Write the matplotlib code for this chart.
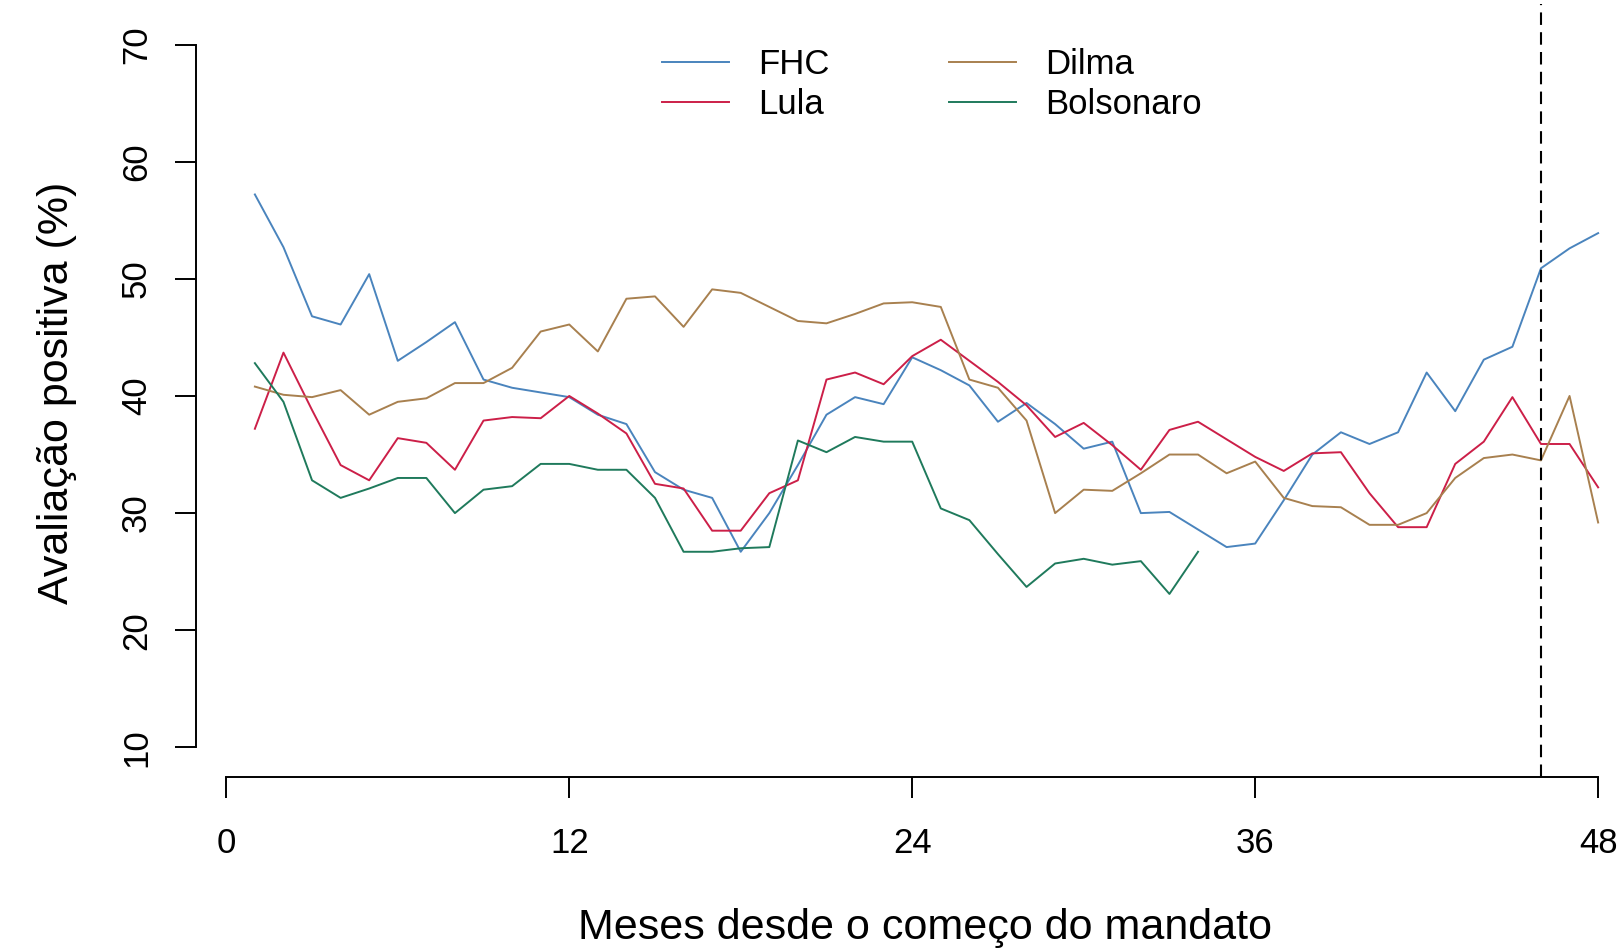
import numpy as np
import matplotlib
matplotlib.use("Agg")
import matplotlib.pyplot as plt

plt.rcParams['font.family'] = ['Liberation Sans', 'DejaVu Sans']

# avaliacao positiva (%) por mes de mandato
meses = np.arange(1, 49)
fhc = [57.2, 52.7, 46.8, 46.1, 50.4, 43.0, 44.6, 46.3, 41.4, 40.7,
       40.3, 39.9, 38.4, 37.6, 33.5, 32.0, 31.3, 26.7, 30.0, 34.1,
       38.4, 39.9, 39.3, 43.3, 42.2, 40.9, 37.8, 39.4, 37.6, 35.5,
       36.1, 30.0, 30.1, 28.6, 27.1, 27.4, 31.1, 35.0, 36.9, 35.9,
       36.9, 42.0, 38.7, 43.1, 44.2, 50.9, 52.6, 53.9]
lula = [37.2, 43.7, 38.8, 34.1, 32.8, 36.4, 36.0, 33.7, 37.9, 38.2,
        38.1, 40.0, 38.5, 36.8, 32.5, 32.1, 28.5, 28.5, 31.7, 32.8,
        41.4, 42.0, 41.0, 43.4, 44.8, 43.0, 41.2, 39.2, 36.5, 37.7,
        35.8, 33.7, 37.1, 37.8, 36.3, 34.8, 33.6, 35.1, 35.2, 31.7,
        28.8, 28.8, 34.2, 36.1, 39.9, 35.9, 35.9, 32.2]
dilma = [40.8, 40.1, 39.9, 40.5, 38.4, 39.5, 39.8, 41.1, 41.1, 42.4,
         45.5, 46.1, 43.8, 48.3, 48.5, 45.9, 49.1, 48.8, 47.6, 46.4,
         46.2, 47.0, 47.9, 48.0, 47.6, 41.4, 40.7, 37.9, 30.0, 32.0,
         31.9, 33.4, 35.0, 35.0, 33.4, 34.4, 31.3, 30.6, 30.5, 29.0,
         29.0, 30.0, 33.0, 34.7, 35.0, 34.5, 40.0, 29.2]
bolsonaro = [42.8, 39.5, 32.8, 31.3, 32.1, 33.0, 33.0, 30.0, 32.0, 32.3,
             34.2, 34.2, 33.7, 33.7, 31.3, 26.7, 26.7, 27.0, 27.1, 36.2,
             35.2, 36.5, 36.1, 36.1, 30.4, 29.4, 26.5, 23.7, 25.7, 26.1,
             25.6, 25.9, 23.1, 26.7]
nomes = ['FHC', 'Lula', 'Dilma', 'Bolsonaro']
cores = ['#4a84bd', '#cc1f48', '#a8804f', '#1f7a5c']
mes_atual = 46

W, H = 1621, 948
fig = plt.figure(figsize=(W / 100, H / 100), dpi=100)
ax = fig.add_axes([196 / W, 1 - 777.4 / H, 1 - 196 / W, 777.4 / H])

series = [fhc, lula, dilma, bolsonaro]
for nome, cor, s in zip(nomes, cores, series):
    ax.plot(meses[:len(s)], s, color=cor, lw=1.4, label=nome)

ax.axvline(mes_atual, color='black', lw=1.5, ls=(0, (6, 3.5)), ymax=0.995)

ax.set_xlim(-1.06, 48.8)
ax.set_ylim(7.44, 73.8)
for sp in ['top', 'right']:
    ax.spines[sp].set_visible(False)
ax.spines['left'].set_bounds(10, 70)
ax.spines['bottom'].set_bounds(0, 48)
for sp in ['left', 'bottom']:
    ax.spines[sp].set_linewidth(1.4)

ax.set_xticks([0, 12, 24, 36, 48])
ax.set_yticks(np.arange(10, 71, 10))
ax.tick_params(axis='both', length=15, width=1.4, labelsize=25)
ax.tick_params(axis='x', pad=21)
ax.tick_params(axis='y', pad=16)
for l in ax.get_yticklabels():
    l.set_rotation(90)
    l.set_va('center')

fig.text(57 / W, 1 - 393 / H, 'Avaliação positiva (%)', rotation=90,
         ha='center', va='center', fontsize=31)
fig.text(925 / W, 1 - 928 / H, 'Meses desde o começo do mandato',
         ha='center', va='center', fontsize=31)

ax.legend(loc='upper left', bbox_to_anchor=(662 / W, 1 - 48 / H),
          bbox_transform=fig.transFigure, ncol=2, frameon=False,
          fontsize=25, handlelength=1.93, handletextpad=0.84,
          columnspacing=3.43, labelspacing=0.2, borderpad=0,
          borderaxespad=0)

fig.savefig('out.png', dpi=100)
